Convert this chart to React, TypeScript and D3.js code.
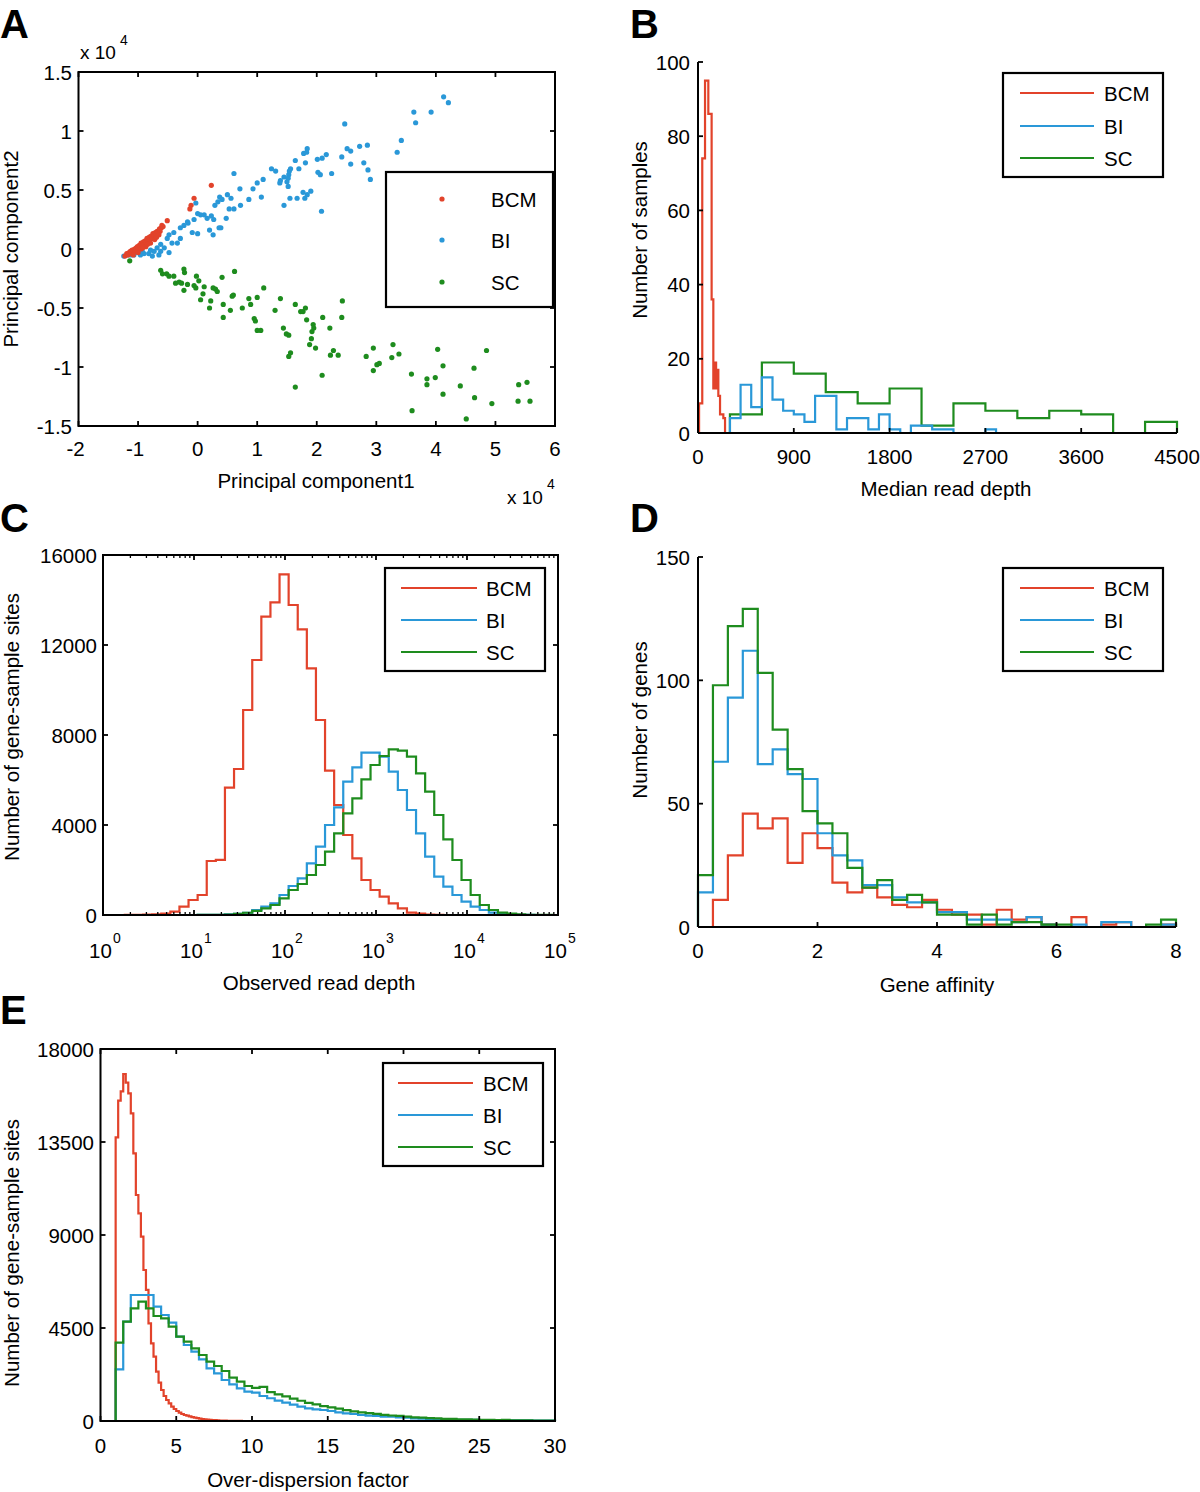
import React from 'react';
import * as d3 from 'd3';

const RED = '#e2432b';
const BLUE = '#2a98d8';
const GREEN = '#1e8c1e';
const FONT = "'Liberation Sans', Arial, Helvetica, sans-serif";
const FS = 20.5;

const seriesNames = ['BCM', 'BI', 'SC'];
const seriesColors = [RED, BLUE, GREEN];

// ---------------- Panel A : PCA scatter (units of 10^4)
const pcaBCM: number[][] = [
  [0.23, 0.54], [-0.06, 0.43], [-0.11, 0.37], [-0.13, 0.34], [-0.51, 0.24],
  [-1.22, -0.06], [-1.19, -0.04], [-1.17, -0.05], [-1.15, -0.03], [-1.13, -0.02], [-1.12, -0.04],
  [-1.10, -0.01], [-1.08, -0.02], [-1.06, 0.0], [-1.05, -0.02], [-1.03, 0.01], [-1.01, 0.02],
  [-1.0, 0.0], [-0.98, 0.03], [-0.96, 0.02], [-0.95, 0.05], [-0.93, 0.03], [-0.91, 0.06],
  [-0.9, 0.04], [-0.88, 0.07], [-0.86, 0.05], [-0.85, 0.09], [-0.83, 0.07], [-0.81, 0.1],
  [-0.8, 0.08], [-0.78, 0.11], [-0.76, 0.09], [-0.75, 0.13], [-0.73, 0.11], [-0.71, 0.14],
  [-0.7, 0.12], [-0.68, 0.15], [-0.66, 0.14], [-0.64, 0.17], [-0.63, 0.15], [-0.61, 0.18],
  [-0.6, 0.2], [-0.58, 0.19], [-0.95, 0.0], [-0.87, 0.02], [-0.79, 0.05], [-0.72, 0.08],
  [-1.08, -0.05], [-1.0, -0.03], [-0.92, 0.01], [-0.84, 0.04], [-0.69, 0.1], [-0.65, 0.12],
];
const pcaBI: number[][] = [
  [4.13, 1.29], [4.21, 1.24], [3.63, 1.16], [3.92, 1.16], [3.66, 1.07], [2.47, 1.06], [3.42, 0.92],
  [3.35, 0.82], [2.51, 0.85], [2.57, 0.83], [2.72, 0.87], [2.85, 0.88], [2.42, 0.78], [2.57, 0.72],
  [2.79, 0.73], [2.86, 0.67], [2.9, 0.59], [1.84, 0.85], [1.83, 0.82], [1.78, 0.81], [1.64, 0.75],
  [1.81, 0.73], [1.7, 0.68], [1.56, 0.68], [1.54, 0.66], [1.53, 0.63], [1.45, 0.61], [1.52, 0.6],
  [1.39, 0.58], [1.38, 0.56], [1.5, 0.57], [1.52, 0.53], [1.24, 0.68], [1.31, 0.66], [1.1, 0.59],
  [1.0, 0.56], [0.93, 0.51], [2.01, 0.76], [2.09, 0.77], [2.16, 0.8], [2.02, 0.65], [2.06, 0.63],
  [2.25, 0.64], [0.61, 0.64], [0.71, 0.51], [0.86, 0.42], [0.72, 0.37], [0.56, 0.43], [0.5, 0.46],
  [1.07, 0.44], [0.53, 0.34], [0.61, 0.34], [0.37, 0.44], [0.34, 0.4], [0.29, 0.37], [0.41, 0.42],
  [0.23, 0.28], [0.27, 0.25], [0.39, 0.18], [0.48, 0.26], [0.2, 0.16], [0.26, 0.12], [0.36, 0.18],
  [1.9, 0.49], [1.84, 0.46], [1.77, 0.48], [1.8, 0.43], [1.67, 0.43], [1.55, 0.43], [1.45, 0.37],
  [2.08, 0.32], [0.11, 0.29], [0.05, 0.29], [0.16, 0.26], [0.0, 0.3], [-0.03, 0.39], [-0.06, 0.25],
  [-0.16, 0.22], [-0.23, 0.2], [-0.29, 0.18], [-0.4, 0.14], [-0.48, 0.12], [-0.43, 0.05], [-0.34, 0.05],
  [-0.51, 0.09], [-0.62, 0.04], [-0.68, 0.01], [-0.73, -0.02], [-0.82, -0.04], [-0.9, -0.04],
  [-0.96, -0.05], [-1.01, -0.03], [-1.07, -0.05], [-1.12, -0.05], [-1.18, -0.05], [-1.24, -0.06],
  [-0.48, -0.03], [-0.65, -0.05], [-0.62, -0.02], [-0.76, -0.06], [0.0, 0.13], [-0.09, 0.14],
  [-0.17, 0.23], [-0.29, 0.09], [-0.79, -0.01], [-0.56, 0.01], [-0.93, -0.02],
];
const pcaSC: number[][] = [
  [-1.14, -0.1], [-0.62, -0.18], [-0.59, -0.21], [-0.52, -0.21], [-0.48, -0.23], [-0.4, -0.23],
  [-0.37, -0.29], [-0.31, -0.28], [-0.27, -0.29], [-0.23, -0.17], [-0.22, -0.2], [-0.23, -0.35],
  [-0.17, -0.3], [-0.06, -0.31], [-0.03, -0.33], [-0.02, -0.23], [0.02, -0.27], [0.05, -0.43],
  [0.09, -0.38], [0.11, -0.32], [0.2, -0.5], [0.22, -0.44], [0.26, -0.33], [0.3, -0.34], [0.33, -0.36],
  [0.41, -0.24], [0.43, -0.58], [0.43, -0.47], [0.55, -0.52], [0.58, -0.4], [0.6, -0.39], [0.62, -0.19],
  [0.75, -0.5], [0.86, -0.42], [0.89, -0.47], [0.95, -0.59], [0.97, -0.61], [1.0, -0.41], [1.0, -0.69],
  [1.06, -0.69], [1.11, -0.33], [1.3, -0.52], [1.39, -0.42], [1.44, -0.67], [1.49, -0.72], [1.53, -0.73],
  [1.53, -0.91], [1.56, -0.88], [1.64, -1.17], [1.64, -0.47], [1.73, -0.53], [1.77, -0.53], [1.81, -0.5],
  [1.83, -0.6], [1.88, -0.81], [1.91, -0.76], [1.92, -0.7], [1.94, -0.64], [1.95, -0.67], [1.98, -0.84],
  [2.1, -0.58], [2.09, -1.07], [2.22, -0.67], [2.23, -0.9], [2.28, -0.86], [2.36, -0.9], [2.42, -0.58],
  [2.43, -0.44], [2.83, -0.91], [2.95, -0.84], [2.95, -1.03], [3.01, -0.98], [3.05, -0.97], [3.26, -0.92],
  [3.28, -0.81], [3.38, -0.89], [3.59, -1.06], [3.6, -1.37], [3.85, -1.15], [3.85, -1.1], [3.99, -1.09],
  [4.03, -0.85], [4.12, -0.99], [4.12, -1.23], [4.41, -1.16], [4.51, -1.44], [4.64, -1.01], [4.65, -1.26],
  [4.85, -0.86], [4.94, -1.31], [5.39, -1.15], [5.38, -1.29], [5.53, -1.13], [5.58, -1.29],
];
const aXTicks = [-2, -1, 0, 1, 2, 3, 4, 5, 6];
const aYTicks = [-1.5, -1, -0.5, 0, 0.5, 1, 1.5];

// ---------------- Panel B : median read depth histograms
const bEdgesBCM = [10, 40, 66, 97, 128, 144, 160, 170, 180, 191, 207, 238, 254];
const bBCM = [8, 74, 95, 86, 36, 12, 19, 12, 17, 10, 5, 4];
const bStartBI = 300, bWidthBI = 100;
const bBI = [4, 13, 7, 15, 9, 6, 5, 3, 10, 10, 1, 4, 4, 1, 5, 1, 0, 2, 2, 1, 1, 0, 0, 0, 1, 0, 0];
const bStartSC = 300, bWidthSC = 300;
const bSC = [5, 19, 16, 11, 8, 12, 2, 8, 6, 4, 6, 5, 0, 3];
const bXTicks = [0, 900, 1800, 2700, 3600, 4500];
const bYTicks = [0, 20, 40, 60, 80, 100];

// ---------------- Panel C : observed read depth (log10 bins of 0.1)
const cStartBCM = 0.24;
const cBCM = [4, 8, 15, 30, 60, 150, 370, 666, 888, 2400, 2450, 5658, 6489, 9111, 11333, 13259, 13896,
  15141, 13778, 12696, 10963, 8667, 6415, 4889, 3556, 2518, 1555, 1111, 815, 518, 296, 104, 60, 20, 5];
const cStartBI = 1.04;
const cBI = [2, 5, 10, 25, 50, 100, 222, 370, 518, 889, 1289, 1630, 2296, 3037, 4000, 4785, 5926, 6563,
  7215, 7215, 7037, 6370, 5555, 4667, 3630, 2593, 1704, 1259, 889, 593, 370, 222, 104, 50, 20, 5, 2, 1, 1];
const cStartSC = 1.04;
const cSC = [2, 5, 10, 20, 50, 100, 180, 296, 444, 741, 1111, 1378, 1778, 2222, 2815, 3630, 4519, 5185,
  6030, 6667, 7067, 7363, 7304, 7037, 6296, 5481, 4444, 3363, 2444, 1555, 889, 444, 222, 104, 60, 30, 10, 5, 2];
const cBinWidth = 0.1;
const cXExponents = [0, 1, 2, 3, 4, 5];
const cYTicks = [0, 4000, 8000, 12000, 16000];

// ---------------- Panel D : gene affinity (bins of 0.25 from 0 to 8)
const dBinWidth = 0.25;
const dBCM = [0, 11, 29, 46, 40, 44, 26, 38, 32, 18, 14, 16, 12, 9, 8, 11, 7, 5, 5, 1, 7, 3, 4, 1, 0, 4, 0, 1, 2, 0, 0, 1];
const dBI = [14, 67, 93, 112, 66, 72, 62, 60, 38, 29, 27, 17, 17, 12, 10, 10, 6, 6, 3, 3, 3, 2, 4, 1, 0, 1, 0, 2, 2, 0, 0, 1];
const dSC = [21, 98, 122, 129, 103, 80, 64, 47, 42, 38, 24, 16, 19, 11, 13, 10, 5, 5, 1, 5, 1, 2, 2, 1, 1, 0, 0, 0, 0, 0, 1, 3];
const dXTicks = [0, 2, 4, 6, 8];
const dYTicks = [0, 50, 100, 150];

// ---------------- Panel E : over-dispersion factor
const eStart = 1;
const eWidthBCM = 1 / 6;
const eBCM = [13728, 15500, 15952, 16791, 16372, 15855, 14887, 12952, 10935, 10048, 8920, 7307, 6340, 4727,
  3759, 3114, 2388, 1855, 1500, 1210, 1016, 855, 694, 581, 484, 403, 339, 290, 258, 220, 190, 160, 135, 115,
  95, 80, 68, 56, 46, 38, 30, 24, 18, 14, 10, 8, 6, 4, 3, 2, 1];
const eWidth = 0.5;
const eBI = [2500, 4807, 6097, 6097, 6097, 5533, 5130, 4759, 4081, 3678, 3355, 2984, 2549, 2307, 1984, 1774,
  1581, 1420, 1371, 1210, 1100, 984, 887, 790, 694, 613, 565, 532, 484, 420, 371, 339, 290, 258, 242, 210,
  210, 177, 161, 129, 113, 97, 81, 75, 65, 60, 55, 50, 48, 45, 40, 38, 35, 30, 28, 25, 22, 20];
const eSC = [3791, 4807, 5452, 5775, 5452, 5081, 4969, 4565, 4081, 3839, 3517, 3194, 2872, 2662, 2420, 2097,
  1904, 1694, 1600, 1650, 1400, 1290, 1190, 1080, 980, 880, 800, 720, 660, 600, 530, 470, 420, 380, 345, 300,
  265, 245, 215, 180, 165, 135, 130, 100, 100, 85, 82, 68, 50, 50, 48, 55, 35, 30, 30, 25, 20, 20];
const eXTicks = [0, 5, 10, 15, 20, 25, 30];
const eYTicks = [0, 4500, 9000, 13500, 18000];

// ---------------- helpers
type Sc = (v: number) => number;

const edgesFrom = (start: number, width: number, n: number) => d3.range(n + 1).map((i) => start + i * width);

function stepPath(edges: number[], values: number[], x: Sc, y: Sc) {
  let p = `M${x(edges[0])},${y(0)}`;
  values.forEach((v, i) => {
    p += `V${y(v)}H${x(edges[i + 1])}`;
  });
  p += `V${y(0)}`;
  return p;
}

const txt = (extra: any = {}) => ({ fontFamily: FONT, fontSize: FS, fill: '#000', ...extra });

function Step({ edges, values, x, y, color }: any) {
  return <path d={stepPath(edges, values, x, y)} fill="none" stroke={color} strokeWidth={2.2} strokeLinejoin="miter" />;
}

function LineLegend({ x0, y0, w, h, lx0, lx1, tx, rows }: any) {
  return (
    <g>
      <rect x={x0} y={y0} width={w} height={h} fill="#fff" stroke="#000" strokeWidth={2.2} />
      {seriesNames.map((n, i) => (
        <g key={n}>
          <line x1={lx0} x2={lx1} y1={rows[i]} y2={rows[i]} stroke={seriesColors[i]} strokeWidth={2.2} />
          <text x={tx} y={rows[i] + 7.5} {...txt()}>{n}</text>
        </g>
      ))}
    </g>
  );
}

function YTitle({ x, y, label }: any) {
  return (
    <text transform={`translate(${x},${y}) rotate(-90)`} textAnchor="middle" {...txt()}>{label}</text>
  );
}

function Letter({ x, y, l }: any) {
  return <text x={x} y={y} {...txt({ fontSize: 40, fontWeight: 'bold' })}>{l}</text>;
}

const TK = 5;

// ---------------- Panels
function PanelA() {
  const x = d3.scaleLinear().domain([-2, 6]).range([78.5, 555]);
  const y = d3.scaleLinear().domain([-1.5, 1.5]).range([426, 72]);
  const [x0, x1] = x.range();
  const [y0, y1] = y.range();
  const groups = [pcaBCM, pcaBI, pcaSC];
  return (
    <g>
      {[2, 1, 0].map((gi) =>
        groups[gi].map((p, i) => (
          <circle key={`${gi}-${i}`} cx={x(p[0])} cy={y(p[1])} r={2.6} fill={seriesColors[gi]} />
        ))
      )}
      <rect x={x0} y={y1} width={x1 - x0} height={y0 - y1} fill="none" stroke="#000" strokeWidth={2} />
      {aXTicks.map((t) => (
        <g key={t}>
          <line x1={x(t)} x2={x(t)} y1={y0} y2={y0 - TK} stroke="#000" strokeWidth={1.8} />
          <line x1={x(t)} x2={x(t)} y1={y1} y2={y1 + TK} stroke="#000" strokeWidth={1.8} />
          <text x={x(t) - (t < 0 ? 3 : 0)} y={456} textAnchor="middle" {...txt()}>{String(t)}</text>
        </g>
      ))}
      {aYTicks.map((t) => (
        <g key={t}>
          <line x1={x0} x2={x0 + TK} y1={y(t)} y2={y(t)} stroke="#000" strokeWidth={1.8} />
          <line x1={x1} x2={x1 - TK} y1={y(t)} y2={y(t)} stroke="#000" strokeWidth={1.8} />
          <text x={72} y={y(t) + 7.5} textAnchor="end" {...txt()}>{String(t)}</text>
        </g>
      ))}
      <text x={80} y={59} {...txt({ fontSize: 19 })}>x 10</text>
      <text x={120} y={45} {...txt({ fontSize: 14 })}>4</text>
      <text x={507} y={504} {...txt({ fontSize: 19 })}>x 10</text>
      <text x={547} y={489} {...txt({ fontSize: 14 })}>4</text>
      <text x={316} y={488} textAnchor="middle" {...txt()}>Principal component1</text>
      <YTitle x={18} y={249} label="Principal component2" />
      <rect x={386} y={172} width={167} height={135} fill="#fff" stroke="#000" strokeWidth={2.2} />
      {seriesNames.map((n, i) => (
        <g key={n}>
          <circle cx={442} cy={[199, 240, 282][i]} r={2.6} fill={seriesColors[i]} />
          <text x={491} y={[199, 240, 282][i] + 7.5} {...txt()}>{n}</text>
        </g>
      ))}
      <Letter x={0} y={38} l="A" />
    </g>
  );
}

function PanelB() {
  const x = d3.scaleLinear().domain([0, 4500]).range([698, 1177]);
  const y = d3.scaleLinear().domain([0, 100]).range([433, 62]);
  const [x0, x1] = x.range();
  const [y0, y1] = y.range();
  return (
    <g>
      <Step edges={edgesFrom(bStartSC, bWidthSC, bSC.length)} values={bSC} x={x} y={y} color={GREEN} />
      <Step edges={edgesFrom(bStartBI, bWidthBI, bBI.length)} values={bBI} x={x} y={y} color={BLUE} />
      <Step edges={bEdgesBCM} values={bBCM} x={x} y={y} color={RED} />
      <line x1={x0} x2={x0} y1={y0} y2={y1} stroke="#000" strokeWidth={2} />
      <line x1={x0} x2={x1} y1={y0} y2={y0} stroke="#000" strokeWidth={2} />
      {bXTicks.map((t) => (
        <g key={t}>
          <line x1={x(t)} x2={x(t)} y1={y0} y2={y0 - TK} stroke="#000" strokeWidth={1.8} />
          <text x={x(t)} y={464} textAnchor="middle" {...txt()}>{String(t)}</text>
        </g>
      ))}
      {bYTicks.map((t) => (
        <g key={t}>
          <line x1={x0} x2={x0 + TK} y1={y(t)} y2={y(t)} stroke="#000" strokeWidth={1.8} />
          <text x={690} y={y(t) + 7.5} textAnchor="end" {...txt()}>{String(t)}</text>
        </g>
      ))}
      <text x={946} y={496} textAnchor="middle" {...txt()}>Median read depth</text>
      <YTitle x={647} y={230} label="Number of samples" />
      <LineLegend x0={1003} y0={73} w={160} h={104} lx0={1020} lx1={1094} tx={1104} rows={[93, 126, 158]} />
      <Letter x={630} y={38} l="B" />
    </g>
  );
}

function PanelC() {
  const x = d3.scaleLog().domain([1, 1e5]).range([103, 558]);
  const y = d3.scaleLinear().domain([0, 16000]).range([915, 555]);
  const [x0, x1] = x.range();
  const [y0, y1] = y.range();
  const logEdges = (start: number, n: number) => edgesFrom(start, cBinWidth, n).map((e) => Math.pow(10, e));
  const minor: number[] = [];
  for (let k = 0; k < 5; k++) for (let m = 2; m <= 9; m++) minor.push(m * Math.pow(10, k));
  return (
    <g>
      <Step edges={logEdges(cStartBCM, cBCM.length)} values={cBCM} x={x} y={y} color={RED} />
      <Step edges={logEdges(cStartBI, cBI.length)} values={cBI} x={x} y={y} color={BLUE} />
      <Step edges={logEdges(cStartSC, cSC.length)} values={cSC} x={x} y={y} color={GREEN} />
      <rect x={x0} y={y1} width={x1 - x0} height={y0 - y1} fill="none" stroke="#000" strokeWidth={2} />
      {minor.map((t) => (
        <g key={t}>
          <line x1={x(t)} x2={x(t)} y1={y0} y2={y0 - 3} stroke="#000" strokeWidth={1.3} />
          <line x1={x(t)} x2={x(t)} y1={y1} y2={y1 + 3} stroke="#000" strokeWidth={1.3} />
        </g>
      ))}
      {cXExponents.map((e) => {
        const xv = x(Math.pow(10, e));
        return (
          <g key={e}>
            <line x1={xv} x2={xv} y1={y0} y2={y0 - TK} stroke="#000" strokeWidth={1.8} />
            <line x1={xv} x2={xv} y1={y1} y2={y1 + TK} stroke="#000" strokeWidth={1.8} />
            <text x={xv - 14} y={958} {...txt()}>10</text>
            <text x={xv + 10} y={943} {...txt({ fontSize: 14 })}>{String(e)}</text>
          </g>
        );
      })}
      {cYTicks.map((t) => (
        <g key={t}>
          <line x1={x0} x2={x0 + TK} y1={y(t)} y2={y(t)} stroke="#000" strokeWidth={1.8} />
          <line x1={x1} x2={x1 - TK} y1={y(t)} y2={y(t)} stroke="#000" strokeWidth={1.8} />
          <text x={97} y={y(t) + 7.5} textAnchor="end" {...txt()}>{String(t)}</text>
        </g>
      ))}
      <text x={319} y={990} textAnchor="middle" {...txt()}>Observed read depth</text>
      <YTitle x={19} y={727} label="Number of gene-sample sites" />
      <LineLegend x0={385} y0={568} w={160} h={103} lx0={401} lx1={477} tx={486} rows={[588, 620, 652]} />
      <Letter x={0} y={532} l="C" />
    </g>
  );
}

function PanelD() {
  const x = d3.scaleLinear().domain([0, 8]).range([698, 1176]);
  const y = d3.scaleLinear().domain([0, 150]).range([927, 557]);
  const [x0, x1] = x.range();
  const [y0, y1] = y.range();
  const edges = edgesFrom(0, dBinWidth, dBCM.length);
  return (
    <g>
      <Step edges={edges} values={dBCM} x={x} y={y} color={RED} />
      <Step edges={edges} values={dBI} x={x} y={y} color={BLUE} />
      <Step edges={edges} values={dSC} x={x} y={y} color={GREEN} />
      <line x1={x0} x2={x0} y1={y0} y2={y1} stroke="#000" strokeWidth={2} />
      <line x1={x0} x2={x1} y1={y0} y2={y0} stroke="#000" strokeWidth={2} />
      {dXTicks.map((t) => (
        <g key={t}>
          <line x1={x(t)} x2={x(t)} y1={y0} y2={y0 - TK} stroke="#000" strokeWidth={1.8} />
          <text x={x(t)} y={958} textAnchor="middle" {...txt()}>{String(t)}</text>
        </g>
      ))}
      {dYTicks.map((t) => (
        <g key={t}>
          <line x1={x0} x2={x0 + TK} y1={y(t)} y2={y(t)} stroke="#000" strokeWidth={1.8} />
          <text x={690} y={y(t) + 7.5} textAnchor="end" {...txt()}>{String(t)}</text>
        </g>
      ))}
      <text x={937} y={992} textAnchor="middle" {...txt()}>Gene affinity</text>
      <YTitle x={647} y={720} label="Number of genes" />
      <LineLegend x0={1003} y0={568} w={160} h={103} lx0={1020} lx1={1094} tx={1104} rows={[588, 620, 652]} />
      <Letter x={630} y={532} l="D" />
    </g>
  );
}

function PanelE() {
  const x = d3.scaleLinear().domain([0, 30]).range([100.5, 555]);
  const y = d3.scaleLinear().domain([0, 18000]).range([1421, 1049]);
  const [x0, x1] = x.range();
  const [y0, y1] = y.range();
  return (
    <g>
      <Step edges={edgesFrom(eStart, eWidthBCM, eBCM.length)} values={eBCM} x={x} y={y} color={RED} />
      <Step edges={edgesFrom(eStart, eWidth, eBI.length)} values={eBI} x={x} y={y} color={BLUE} />
      <Step edges={edgesFrom(eStart, eWidth, eSC.length)} values={eSC} x={x} y={y} color={GREEN} />
      <rect x={x0} y={y1} width={x1 - x0} height={y0 - y1} fill="none" stroke="#000" strokeWidth={2} />
      {eXTicks.map((t) => (
        <g key={t}>
          <line x1={x(t)} x2={x(t)} y1={y0} y2={y0 - TK} stroke="#000" strokeWidth={1.8} />
          <line x1={x(t)} x2={x(t)} y1={y1} y2={y1 + TK} stroke="#000" strokeWidth={1.8} />
          <text x={x(t)} y={1453} textAnchor="middle" {...txt()}>{String(t)}</text>
        </g>
      ))}
      {eYTicks.map((t) => (
        <g key={t}>
          <line x1={x0} x2={x0 + TK} y1={y(t)} y2={y(t)} stroke="#000" strokeWidth={1.8} />
          <line x1={x1} x2={x1 - TK} y1={y(t)} y2={y(t)} stroke="#000" strokeWidth={1.8} />
          <text x={94} y={y(t) + 7.5} textAnchor="end" {...txt()}>{String(t)}</text>
        </g>
      ))}
      <text x={308} y={1487} textAnchor="middle" {...txt()}>Over-dispersion factor</text>
      <YTitle x={19} y={1253} label="Number of gene-sample sites" />
      <LineLegend x0={383} y0={1063} w={160} h={103} lx0={398} lx1={473} tx={483} rows={[1083, 1115, 1147]} />
      <Letter x={0} y={1024} l="E" />
    </g>
  );
}

export default function App() {
  return (
    <svg
      width={1200}
      height={1492}
      viewBox="0 0 1200 1492"
      style={{ position: 'absolute', left: 0, top: 0, background: '#fff' }}
    >
      <rect x={0} y={0} width={1200} height={1492} fill="#fff" />
      <PanelA />
      <PanelB />
      <PanelC />
      <PanelD />
      <PanelE />
    </svg>
  );
}
